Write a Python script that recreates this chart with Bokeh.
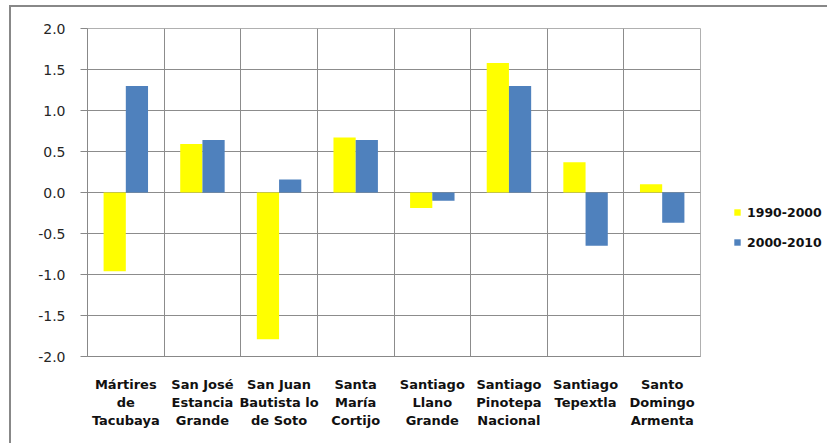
from bokeh.plotting import figure
from bokeh.models import Range1d, FixedTicker, NumeralTickFormatter, Legend, LegendItem, ColumnDataSource
from bokeh.embed import file_html
from bokeh.resources import INLINE

categories = ["Mártires\nde\nTacubaya", "San José\nEstancia\nGrande", "San Juan\nBautista lo\nde Soto",
              "Santa\nMaría\nCortijo", "Santiago\nLlano\nGrande", "Santiago\nPinotepa\nNacional",
              "Santiago\nTepextla", "Santo\nDomingo\nArmenta"]
series_1990_2000 = [-0.96, 0.59, -1.79, 0.67, -0.19, 1.58, 0.37, 0.10]
series_2000_2010 = [1.30, 0.64, 0.16, 0.64, -0.10, 1.30, -0.65, -0.37]
y_ticks = [-2.0, -1.5, -1.0, -0.5, 0.0, 0.5, 1.0, 1.5, 2.0]

BAR_W = 0.29
centers = [i + 0.5 for i in range(len(categories))]

src = ColumnDataSource(dict(
    x1=[c - BAR_W / 2 for c in centers],
    x2=[c + BAR_W / 2 for c in centers],
    y1=series_1990_2000,
    y2=series_2000_2010,
))

p = figure(frame_width=613, frame_height=328, output_backend="svg", toolbar_location=None,
           x_range=Range1d(0, len(categories)), y_range=Range1d(-2, 2),
           min_border_left=76, min_border_top=21, min_border_right=126, min_border_bottom=87)
p.styles = {"margin-left": "9px", "margin-top": "5px",
            "border-left": "2px solid #888888", "border-top": "2px solid #888888"}

r1 = p.vbar(x="x1", top="y1", bottom=0, width=BAR_W, source=src, fill_color="#FFFF00", line_color=None)
r2 = p.vbar(x="x2", top="y2", bottom=0, width=BAR_W, source=src, fill_color="#4F81BD", line_color=None)

# axes
p.xaxis.ticker = FixedTicker(ticks=centers)
p.xaxis.major_label_overrides = {c: lab for c, lab in zip(centers, categories)}
p.xaxis.major_tick_line_color = None
p.xaxis.minor_tick_line_color = None
p.xaxis.axis_line_color = "#888888"
p.xaxis.major_label_standoff = 14
p.xaxis.major_label_text_font = "DejaVu Sans"
p.xaxis.major_label_text_font_style = "bold"
p.xaxis.major_label_text_font_size = "13px"
p.xaxis.major_label_text_color = "#111111"
p.xaxis.major_label_text_line_height = 1.2

p.yaxis.ticker = FixedTicker(ticks=y_ticks)
p.yaxis.formatter = NumeralTickFormatter(format="0.0")
p.yaxis.major_tick_out = 7
p.yaxis.major_tick_in = 0
p.yaxis.minor_tick_line_color = None
p.yaxis.major_tick_line_color = "#888888"
p.yaxis.axis_line_color = "#888888"
p.yaxis.major_label_standoff = 15
p.yaxis.major_label_text_font = "DejaVu Sans"
p.yaxis.major_label_text_font_size = "14px"
p.yaxis.major_label_text_color = "#262626"

# grids
p.xgrid.ticker = FixedTicker(ticks=list(range(len(categories) + 1)))
p.xgrid.grid_line_color = "#8c8c8c"
p.ygrid.grid_line_color = "#8c8c8c"
p.outline_line_color = "#b0b0b0"

legend = Legend(items=[LegendItem(label="1990-2000", renderers=[r1]),
                       LegendItem(label="2000-2010", renderers=[r2])],
                location=(33, 106), glyph_width=8, glyph_height=8, label_height=16,
                spacing=14, padding=0, margin=0, label_standoff=6,
                border_line_color=None, background_fill_alpha=0,
                label_text_font="DejaVu Sans", label_text_font_style="bold",
                label_text_font_size="12.5px", label_text_color="#111111")
p.add_layout(legend, "right")

open("out.html", "w").write(file_html(p, INLINE))
